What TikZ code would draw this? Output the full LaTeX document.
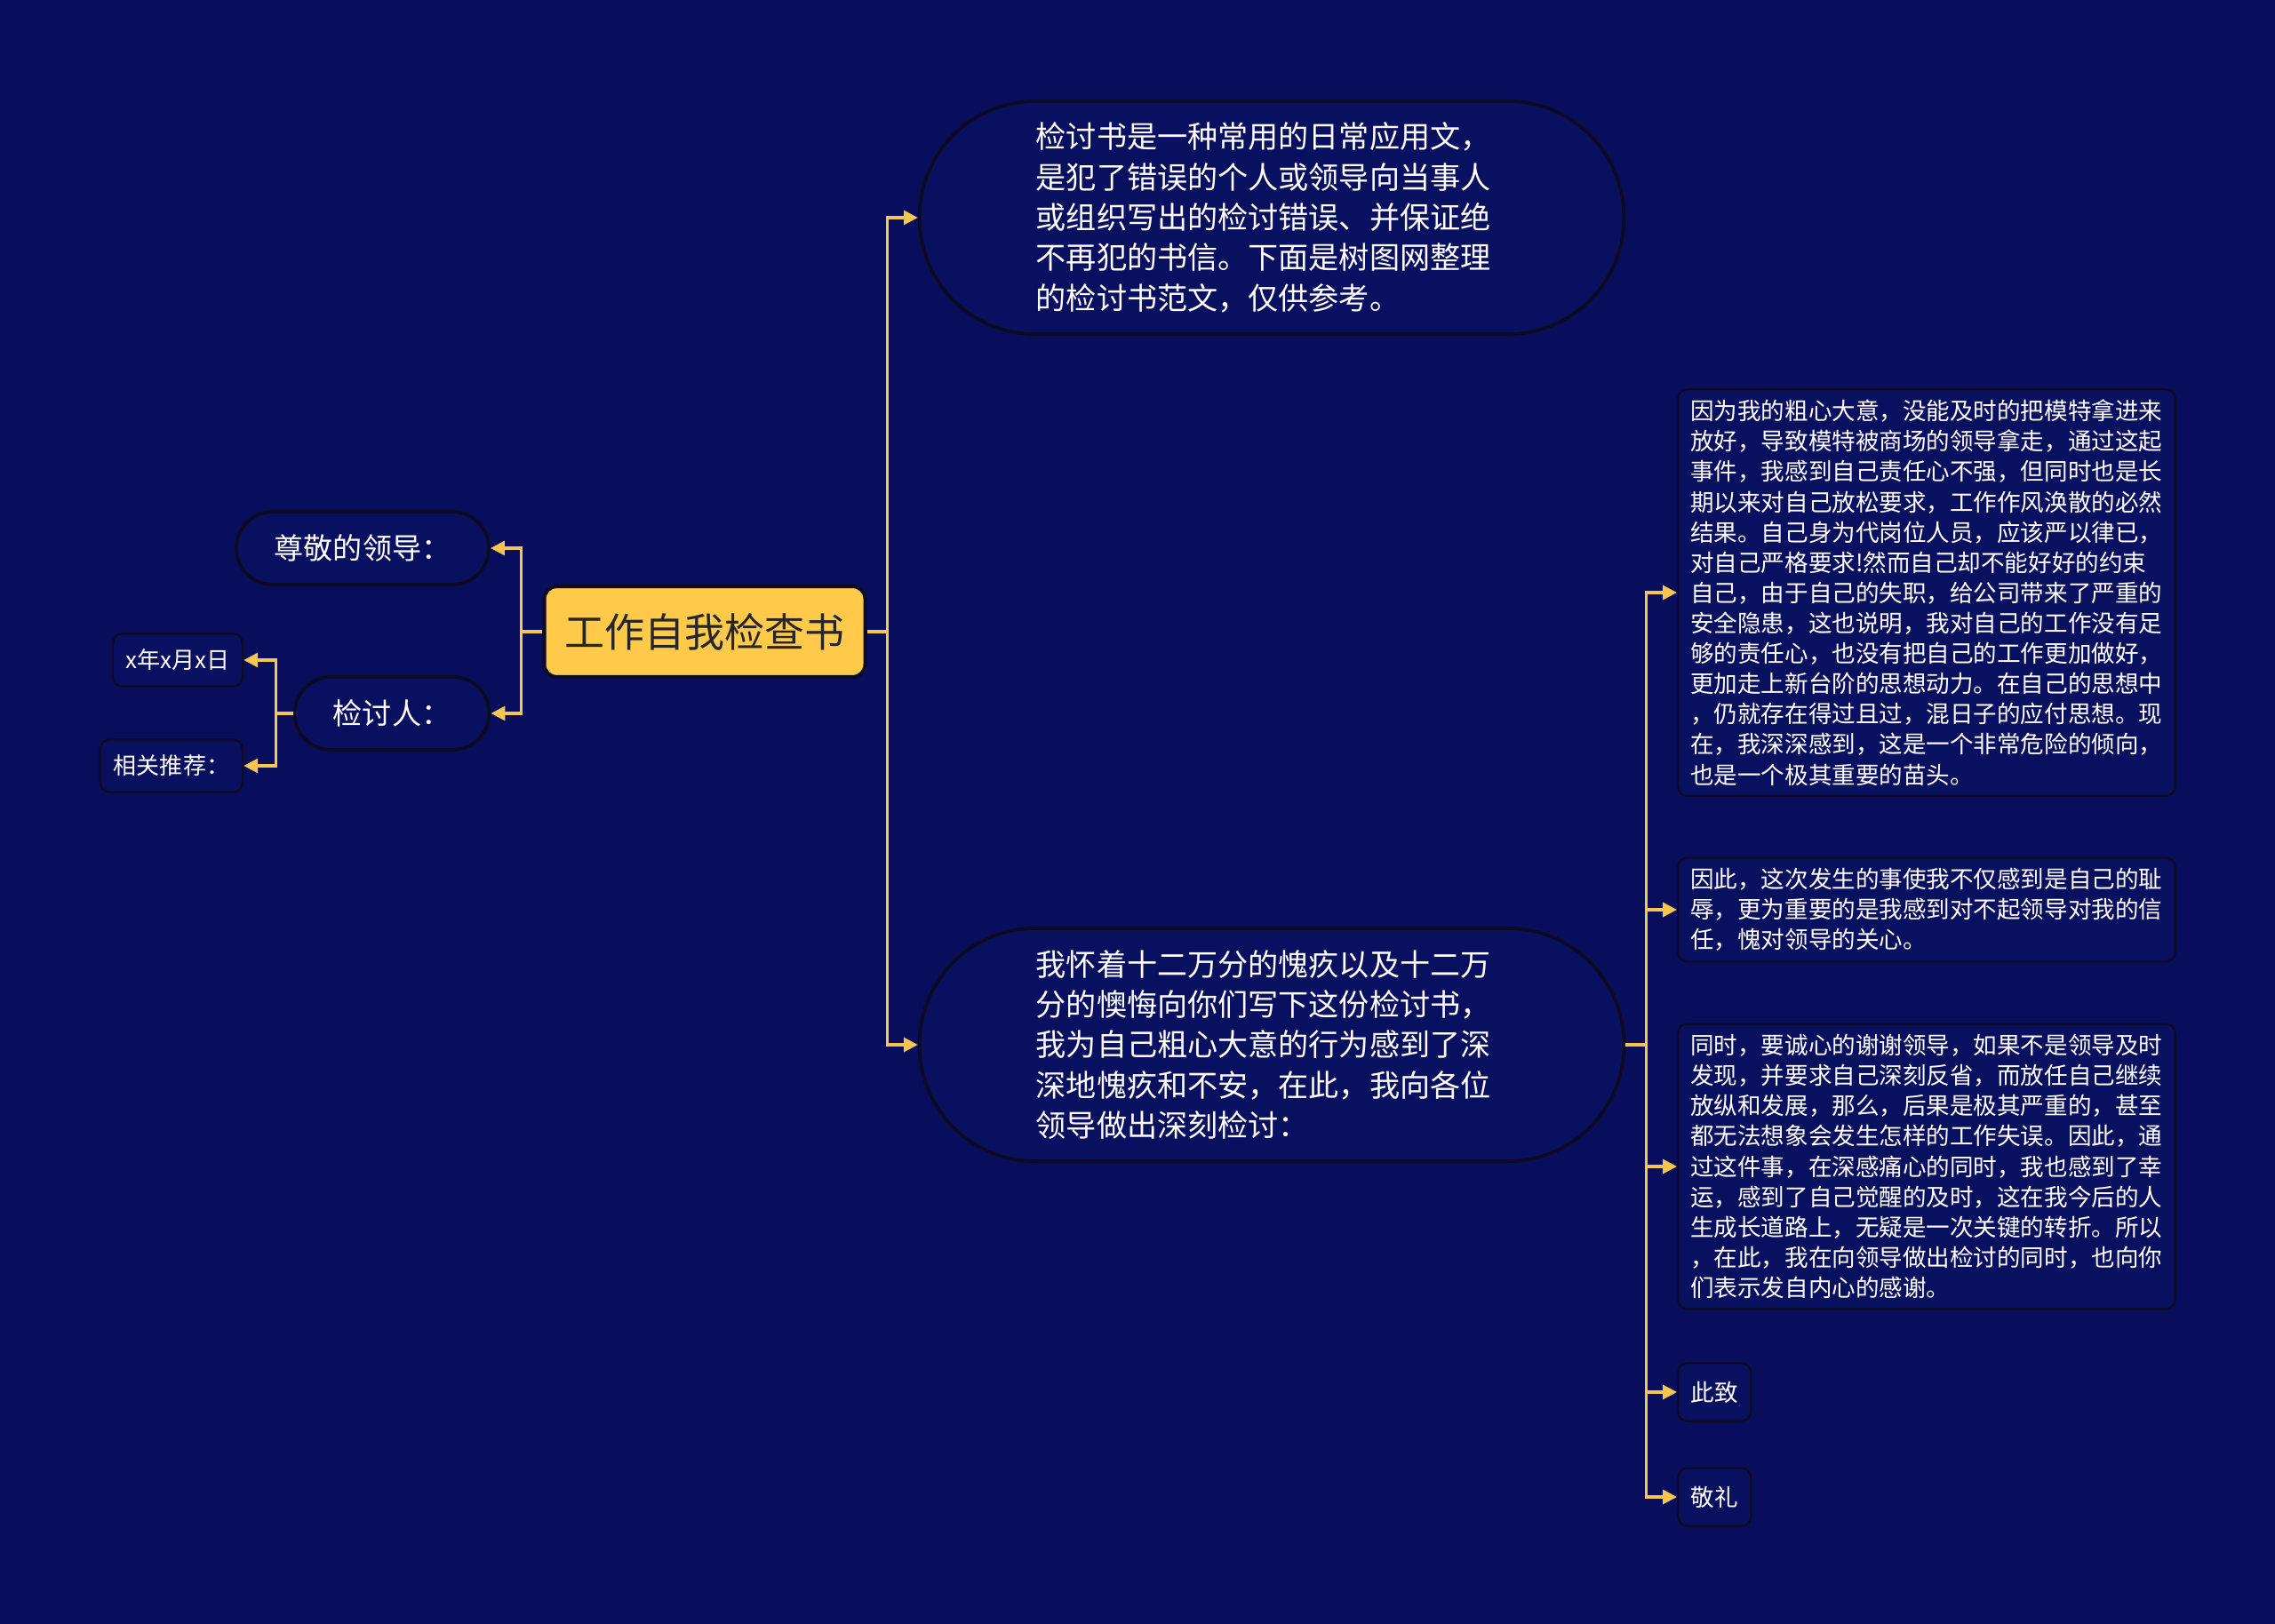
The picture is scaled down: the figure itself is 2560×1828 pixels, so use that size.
\documentclass[tikz,border=0pt]{standalone}
\usepackage{fontspec}
\setmainfont{Noto Sans CJK SC}
\usetikzlibrary{arrows.meta}
\definecolor{ShuBg}{HTML}{080E5C}
\definecolor{ShuBox}{HTML}{0A1060}
\definecolor{ShuEdge}{HTML}{0B0C24}
\definecolor{ShuGold}{HTML}{F6C64E}
\definecolor{ShuRoot}{HTML}{FFC94A}

\begin{document}
\begin{tikzpicture}[x=0.01cm,y=-0.01cm,
  root/.style={draw=ShuEdge,line width=1.2pt,rounded corners=4pt,fill=ShuRoot,text=black!85,minimum width=3.61cm,minimum height=1.02cm,font=\fontsize{12.8pt}{15pt}\selectfont},
  pill/.style={draw=ShuEdge,line width=1.1pt,fill=ShuBox,text=white,rounded corners=0.41cm,minimum width=2.84cm,minimum height=0.82cm,font=\fontsize{9.4pt}{12pt}\selectfont},
  blob/.style={draw=ShuEdge,line width=1.1pt,fill=ShuBox,text=white,rounded corners=1.3cm,minimum width=7.92cm,minimum height=2.62cm,align=left,font=\fontsize{9.7pt}{12.9pt}\selectfont},
  note/.style={draw=ShuEdge,line width=0.7pt,fill=ShuBox,text=white,rounded corners=3pt,align=left,inner sep=0pt,minimum width=1.46cm,minimum height=0.59cm,font=\fontsize{7.4pt}{9.4pt}\selectfont},
  leaf/.style={draw=ShuEdge,line width=0.7pt,fill=ShuBox,text=white,rounded corners=3pt,align=left,text width=5.31cm,minimum width=5.59cm,font=\fontsize{7.55pt}{9.7pt}\selectfont},
  tag/.style={draw=ShuEdge,line width=0.7pt,fill=ShuBox,text=white,rounded corners=3pt,minimum width=0.82cm,minimum height=0.65cm,font=\fontsize{7.55pt}{9.7pt}\selectfont},
  link/.style={draw=ShuGold,line width=0.95pt,-{Triangle[length=4.5pt,width=4.5pt]}}]
  \fill[ShuBg] (0,0) rectangle (2560,1828);
  \useasboundingbox (0,0) rectangle (2560,1828);
  % centre
  \node[root] (root) at (793,711) {工作自我检查书};
  % left side
  \node[pill] (lead) at (408,617) {尊敬的领导：};
  \node[pill,minimum width=2.19cm] (self) at (441,803) {检讨人：};
  \node[note] (date) at (200,743) {x年x月x日};
  \node[note,minimum width=1.6cm] (more) at (193,862) {相关推荐：};
  % right side
  \node[blob,text width=5.3cm,inner xsep=1.25cm] (intro) at (1431,245) {检讨书是一种常用的日常应用文，\\是犯了错误的个人或领导向当事人\\或组织写出的检讨错误、并保证绝\\不再犯的书信。下面是树图网整理\\的检讨书范文，仅供参考。};
  \node[blob,text width=5.3cm,inner xsep=1.25cm] (vow) at (1431,1176) {我怀着十二万分的愧疚以及十二万\\分的懊悔向你们写下这份检讨书，\\我为自己粗心大意的行为感到了深\\深地愧疚和不安，在此，我向各位\\领导做出深刻检讨：};
  \node[leaf,anchor=west] (why) at (1887,667) {因为我的粗心大意，没能及时的把模特拿进来\\放好，导致模特被商场的领导拿走，通过这起\\事件，我感到自己责任心不强，但同时也是长\\期以来对自己放松要求，工作作风涣散的必然\\结果。自己身为代岗位人员，应该严以律已，\\对自己严格要求!然而自己却不能好好的约束\\自己，由于自己的失职，给公司带来了严重的\\安全隐患，这也说明，我对自己的工作没有足\\够的责任心，也没有把自己的工作更加做好，\\更加走上新台阶的思想动力。在自己的思想中\\，仍就存在得过且过，混日子的应付思想。现\\在，我深深感到，这是一个非常危险的倾向，\\也是一个极其重要的苗头。};
  \node[leaf,anchor=west] (shame) at (1887,1024) {因此，这次发生的事使我不仅感到是自己的耻\\辱，更为重要的是我感到对不起领导对我的信\\任，愧对领导的关心。};
  \node[leaf,anchor=west] (thanks) at (1887,1313) {同时，要诚心的谢谢领导，如果不是领导及时\\发现，并要求自己深刻反省，而放任自己继续\\放纵和发展，那么，后果是极其严重的，甚至\\都无法想象会发生怎样的工作失误。因此，通\\过这件事，在深感痛心的同时，我也感到了幸\\运，感到了自己觉醒的及时，这在我今后的人\\生成长道路上，无疑是一次关键的转折。所以\\，在此，我在向领导做出检讨的同时，也向你\\们表示发自内心的感谢。};
  \node[tag,anchor=west] (cizhi) at (1887,1567) {此致};
  \node[tag,anchor=west] (jingli) at (1887,1685) {敬礼};
  % connectors
  \draw[link] (root.east) -- ++(23,0) |- (intro.west);
  \draw[link] (root.east) -- ++(23,0) |- (vow.west);
  \draw[link] (root.west) -- ++(-24,0) |- (lead.east);
  \draw[link] (root.west) -- ++(-24,0) |- (self.east);
  \draw[link] (self.west) -- ++(-19,0) |- (date.east);
  \draw[link] (self.west) -- ++(-19,0) |- (more.east);
  \foreach \n in {why,shame,thanks,cizhi,jingli}
    \draw[link] (vow.east) -- ++(23,0) |- (\n.west);
\end{tikzpicture}
\end{document}
